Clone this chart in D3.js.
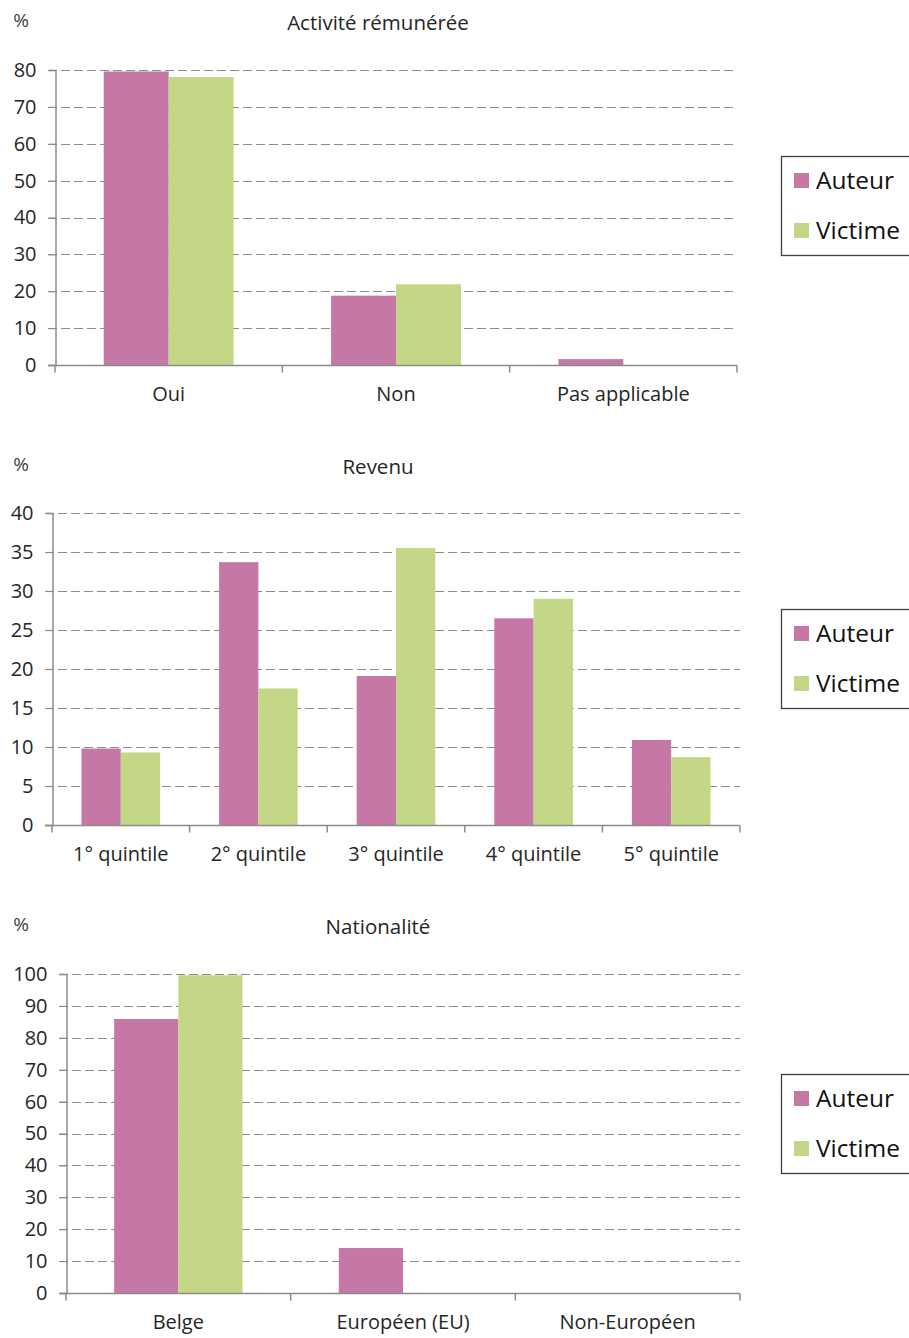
<!DOCTYPE html>
<html>
<head>
<meta charset="utf-8">
<script src="https://cdn.jsdelivr.net/npm/d3@7"></script>
<style>
  html, body { margin: 0; padding: 0; background: #fff; }
  svg { display: block; font-family: "Open Sans", Lato, sans-serif; }
</style>
</head>
<body>
<svg id="chart" width="909" height="1338"></svg>
<script>
// Series names and colours
const seriesNames = ["Auteur", "Victime"];
const seriesColors = ["#C578A6", "#C3D787"];

// Panel 1: paid activity
const activiteCategories = ["Oui", "Non", "Pas applicable"];
const activiteAuteur = [79.6, 18.8, 1.6];
const activiteVictime = [78.1, 21.9, 0];
const activiteTicks = [0, 10, 20, 30, 40, 50, 60, 70, 80];

// Panel 2: income quintiles
const revenuCategories = ["1° quintile", "2° quintile", "3° quintile", "4° quintile", "5° quintile"];
const revenuAuteur = [9.8, 33.7, 19.1, 26.5, 10.9];
const revenuVictime = [9.3, 17.5, 35.5, 29.0, 8.7];
const revenuTicks = [0, 5, 10, 15, 20, 25, 30, 35, 40];

// Panel 3: nationality
const nationaliteCategories = ["Belge", "Européen (EU)", "Non-Européen"];
const nationaliteAuteur = [85.9, 14.1, 0];
const nationaliteVictime = [99.6, 0, 0];
const nationaliteTicks = [0, 10, 20, 30, 40, 50, 60, 70, 80, 90, 100];

const svg = d3.select("#chart");
const textColor = "#262626";
const axisColor = "#8c8c8c";

function drawPanel(cfg) {
  const { title, categories, auteur, victime, ticks, left, right, bottom, top, titleY, legendTop } = cfg;
  const g = svg.append("g");
  const yMax = ticks[ticks.length - 1];

  const x0 = d3.scaleBand().domain(categories).range([left, right]).paddingInner(0).paddingOuter(0);
  const y = d3.scaleLinear().domain([0, yMax]).range([bottom, top]);

  // gap width of 150%: two bars per group, gap = 1.5 bar widths
  const barW = x0.bandwidth() / 3.5;
  const x1 = d3.scaleBand().domain(seriesNames).range([barW * 0.75, barW * 2.75]);

  // dashed horizontal gridlines (zero line is the axis)
  g.append("g")
    .selectAll("line")
    .data(ticks.filter(t => t > 0))
    .join("line")
    .attr("x1", left - 7)
    .attr("x2", right)
    .attr("y1", d => Math.round(y(d)) + 0.5)
    .attr("y2", d => Math.round(y(d)) + 0.5)
    .attr("stroke", axisColor)
    .attr("stroke-width", 1.2)
    .attr("stroke-dasharray", "9,4");

  // bars
  const rows = categories.map((c, i) => ({ c, vals: [auteur[i], victime[i]] }));
  g.append("g")
    .selectAll("g")
    .data(rows)
    .join("g")
    .attr("transform", d => `translate(${x0(d.c)},0)`)
    .selectAll("rect")
    .data(d => d.vals.map((v, k) => ({ v, k })))
    .join("rect")
    .attr("x", d => x1(seriesNames[d.k]))
    .attr("width", x1.bandwidth())
    .attr("y", d => y(d.v))
    .attr("height", d => bottom - y(d.v))
    .attr("fill", d => seriesColors[d.k]);

  // y axis
  const yAxis = d3.axisLeft(y).tickValues(ticks).tickSize(7).tickPadding(12).tickFormat(d3.format("d"));
  const ya = g.append("g").attr("transform", `translate(${left + 0.5},0)`).call(yAxis);
  ya.select(".domain").attr("stroke", axisColor).attr("stroke-width", 1.5);
  ya.selectAll(".tick line").attr("stroke", axisColor).attr("stroke-width", 1.2);
  ya.selectAll(".tick text").attr("fill", textColor).attr("font-size", 20)
    .attr("font-family", "'Open Sans', sans-serif");

  // x axis with ticks at category boundaries
  const xa = g.append("g").attr("transform", `translate(0,${bottom + 0.5})`);
  xa.append("line").attr("x1", left - 7).attr("x2", right).attr("stroke", axisColor).attr("stroke-width", 1.5);
  xa.selectAll("line.bound")
    .data(categories.map(c => x0(c)).concat([right]))
    .join("line")
    .attr("class", "bound")
    .attr("x1", d => d).attr("x2", d => d)
    .attr("y1", 0).attr("y2", 7)
    .attr("stroke", axisColor).attr("stroke-width", 1.5);
  xa.selectAll("text")
    .data(categories)
    .join("text")
    .attr("x", d => x0(d) + x0.bandwidth() / 2)
    .attr("y", 35)
    .attr("text-anchor", "middle")
    .attr("fill", textColor)
    .attr("font-size", 20)
    .text(d => d);

  // title and unit
  g.append("text").attr("x", 378).attr("y", titleY).attr("text-anchor", "middle")
    .attr("fill", textColor).attr("font-size", 20.5).text(title);
  g.append("text").attr("x", 21).attr("y", titleY - 3.5).attr("text-anchor", "middle")
    .attr("fill", "#404040").attr("font-size", 19).text("%");

  // legend
  const lg = g.append("g").attr("transform", `translate(781,${legendTop})`);
  lg.append("rect").attr("x", 0.5).attr("y", 0.5).attr("width", 140).attr("height", 99)
    .attr("fill", "#fff").attr("stroke", "#404040").attr("stroke-width", 1.3);
  seriesNames.forEach((s, k) => {
    lg.append("rect").attr("x", 13).attr("y", 17 + k * 50).attr("width", 15).attr("height", 15)
      .attr("fill", seriesColors[k]);
    lg.append("text").attr("x", 35).attr("y", 33 + k * 50).attr("fill", "#111")
      .attr("font-size", 24.5).text(s);
  });
}

drawPanel({
  title: "Activité rémunérée", categories: activiteCategories,
  auteur: activiteAuteur, victime: activiteVictime, ticks: activiteTicks,
  left: 55, right: 737, bottom: 365, top: 70, titleY: 30, legendTop: 156
});
drawPanel({
  title: "Revenu", categories: revenuCategories,
  auteur: revenuAuteur, victime: revenuVictime, ticks: revenuTicks,
  left: 52, right: 740, bottom: 825, top: 513, titleY: 474, legendTop: 609
});
drawPanel({
  title: "Nationalité", categories: nationaliteCategories,
  auteur: nationaliteAuteur, victime: nationaliteVictime, ticks: nationaliteTicks,
  left: 66, right: 740, bottom: 1293, top: 974, titleY: 934, legendTop: 1074
});
</script>
</body>
</html>
